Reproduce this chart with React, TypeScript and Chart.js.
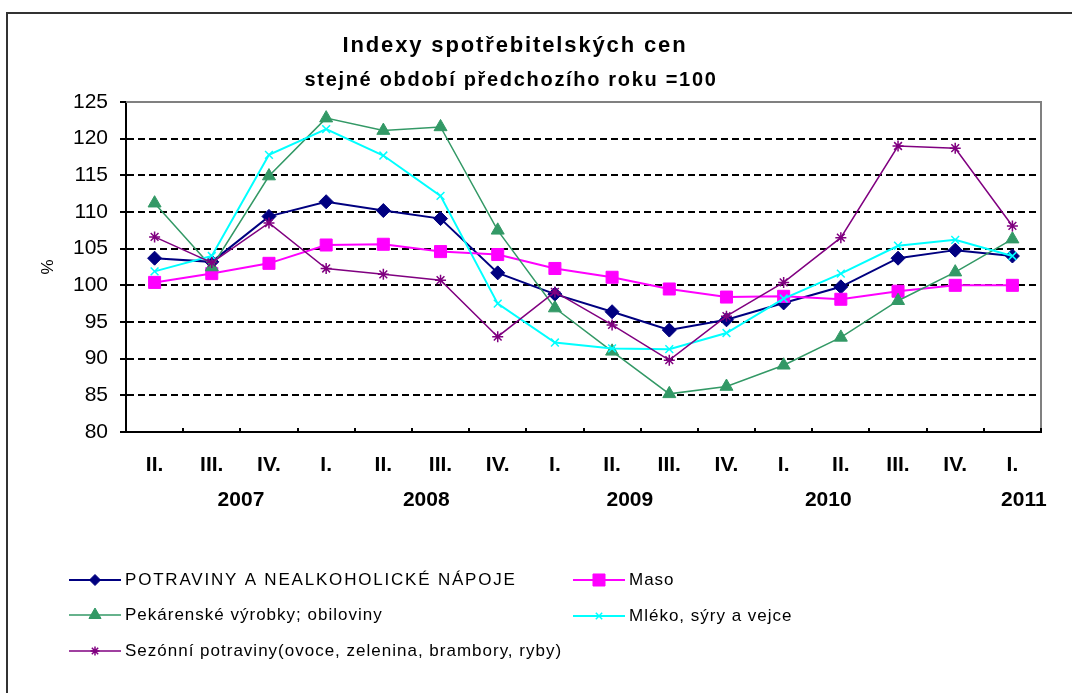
import React, { useEffect, useRef } from "react";
import { Chart, registerables } from "chart.js";
import { drawPoint } from "chart.js/helpers";

Chart.register(...registerables);

const quarterLabels = ["II.", "III.", "IV.", "I.", "II.", "III.", "IV.", "I.", "II.", "III.", "IV.", "I.", "II.", "III.", "IV.", "I."];
const yearLabels = ["2007", "2008", "2009", "2010", "2011"];

const potraviny = [103.7, 103.2, 109.4, 111.4, 110.2, 109.1, 101.7, 98.8, 96.4, 93.9, 95.3, 97.6, 99.8, 103.7, 104.8, 104.0];
const maso = [100.4, 101.6, 103.0, 105.5, 105.6, 104.6, 104.2, 102.3, 101.1, 99.5, 98.4, 98.5, 98.1, 99.2, 100.0, 100.0];
const pekarenske = [111.2, 102.5, 114.9, 122.8, 121.1, 121.6, 107.5, 96.9, 91.0, 85.2, 86.2, 89.1, 92.9, 97.9, 101.8, 106.3];
const mleko = [101.9, 104.0, 117.8, 121.3, 117.7, 112.2, 97.5, 92.2, 91.4, 91.3, 93.5, 98.2, 101.6, 105.4, 106.2, 104.0];
const sezonni = [106.6, 103.1, 108.5, 102.3, 101.5, 100.7, 93.0, 99.1, 94.6, 89.8, 95.8, 100.4, 106.5, 119.0, 118.7, 108.1];

const seriesNames = [
  "POTRAVINY A NEALKOHOLICKÉ NÁPOJE",
  "Maso",
  "Pekárenské výrobky; obiloviny",
  "Mléko, sýry a vejce",
  "Sezónní potraviny(ovoce, zelenina, brambory, ryby)",
];

const titleText = "Indexy spotřebitelských cen";
const subtitleText = "stejné období předchozího roku =100";
const yAxisTitle = "%";

const FONT = '"Liberation Sans", Arial, Helvetica, sans-serif';

// layout (not data)
const yearCenters = [1.51, 4.75, 8.31, 11.78, 15.2];
const legendSlots = [
  { x: 69, y: 580, r: 5.5, ls: 1.8 },
  { x: 573, y: 580, r: 8.5, ls: 1 },
  { x: 69, y: 615, r: 7, ls: 1 },
  { x: 573, y: 616, r: 4.5, ls: 1 },
  { x: 69, y: 651, r: 4.5, ls: 1 },
];

function spaced(ctx: CanvasRenderingContext2D, text: string, x: number, y: number, target?: number, ls?: number) {
  (ctx as any).letterSpacing = "0px";
  if (target) {
    const w = ctx.measureText(text).width;
    const n = Array.from(text).length;
    (ctx as any).letterSpacing = Math.max(0, (target - w) / n) + "px";
  } else if (ls) {
    (ctx as any).letterSpacing = ls + "px";
  }
  ctx.fillText(text, x, y);
  (ctx as any).letterSpacing = "0px";
}

const decor = {
  id: "decor",
  beforeDraw(chart: any) {
    const ctx = chart.ctx as CanvasRenderingContext2D;
    ctx.save();
    ctx.fillStyle = "#fff";
    ctx.fillRect(0, 0, chart.width, chart.height);
    ctx.strokeStyle = "#333";
    ctx.lineWidth = 2;
    ctx.beginPath();
    ctx.moveTo(7, chart.height);
    ctx.lineTo(7, 13);
    ctx.lineTo(chart.width, 13);
    ctx.stroke();
    ctx.restore();
  },
  beforeDatasetsDraw(chart: any) {
    const ctx = chart.ctx as CanvasRenderingContext2D;
    const a = chart.chartArea;
    const xs = chart.scales.x;
    ctx.save();
    ctx.strokeStyle = "#808080";
    ctx.lineWidth = 2;
    ctx.beginPath();
    ctx.moveTo(a.left, a.top);
    ctx.lineTo(a.right, a.top);
    ctx.lineTo(a.right, a.bottom);
    ctx.stroke();
    ctx.strokeStyle = "#000";
    ctx.lineWidth = 2;
    for (let i = 0; i <= quarterLabels.length; i++) {
      const px = Math.round(xs.getPixelForValue(i - 0.5));
      ctx.beginPath();
      ctx.moveTo(px, a.bottom);
      ctx.lineTo(px, a.bottom - 4);
      ctx.stroke();
    }
    ctx.restore();
  },
  afterDraw(chart: any) {
    const ctx = chart.ctx as CanvasRenderingContext2D;
    const xs = chart.scales.x;
    ctx.save();
    ctx.fillStyle = "#000";
    ctx.textBaseline = "middle";
    ctx.textAlign = "center";
    ctx.font = `bold 22px ${FONT}`;
    spaced(ctx, titleText, 515, 46, 345);
    ctx.font = `bold 20px ${FONT}`;
    spaced(ctx, subtitleText, 511, 80, 413);

    ctx.font = `bold 21px ${FONT}`;
    yearLabels.forEach((t, i) => {
      ctx.fillText(t, xs.getPixelForValue(yearCenters[i]), 500);
    });

    ctx.save();
    ctx.translate(48, 267);
    ctx.rotate(-Math.PI / 2);
    ctx.font = `17px ${FONT}`;
    ctx.fillText(yAxisTitle, 0, 0);
    ctx.restore();

    // legend
    ctx.textAlign = "left";
    ctx.font = `17px ${FONT}`;
    chart.data.datasets.forEach((ds: any, i: number) => {
      const s = legendSlots[i];
      ctx.strokeStyle = ds.borderColor;
      ctx.lineWidth = ds.borderWidth;
      ctx.beginPath();
      ctx.moveTo(s.x, s.y);
      ctx.lineTo(s.x + 52, s.y);
      ctx.stroke();
      ctx.fillStyle = ds.borderColor;
      ctx.lineWidth = ds.pointBorderWidth;
      drawPoint(ctx, { pointStyle: ds.pointStyle, rotation: 0, radius: s.r, borderWidth: ds.pointBorderWidth }, s.x + 26, s.y);
      ctx.fillStyle = "#000";
      spaced(ctx, ds.label, s.x + 56, s.y, undefined, s.ls);
    });
    ctx.restore();
  },
};

export default function App() {
  const ref = useRef<HTMLCanvasElement>(null);
  useEffect(() => {
    document.body.style.margin = "0";
    const canvas = ref.current!;
    const mk = (i: number, data: number[], color: string, style: string, radius: number, width: number, pbw: number) => ({
      label: seriesNames[i],
      data,
      borderColor: color,
      backgroundColor: color,
      pointBackgroundColor: color,
      pointBorderColor: color,
      pointStyle: style,
      pointRadius: radius,
      pointHoverRadius: radius,
      pointBorderWidth: pbw,
      borderWidth: width,
      tension: 0,
      fill: false,
      order: 5 - i,
    });
    const chart = new Chart(canvas, {
      type: "line",
      data: {
        labels: quarterLabels,
        datasets: [
          mk(0, potraviny, "#000080", "rectRot", 7, 2, 1),
          mk(1, maso, "#FF00FF", "rect", 8.5, 2, 1),
          mk(2, pekarenske, "#339966", "triangle", 7.5, 1.5, 1),
          mk(3, mleko, "#00FFFF", "crossRot", 5.5, 2, 1.5),
          mk(4, sezonni, "#800080", "star", 5.5, 1.5, 1.5),
        ] as any,
      },
      options: {
        responsive: false,
        animation: false,
        devicePixelRatio: 1,
        events: [],
        layout: { padding: { left: 0, top: 102, right: 31, bottom: 0 } },
        plugins: {
          legend: { display: false },
          tooltip: { enabled: false },
          title: { display: false },
        },
        scales: {
          x: {
            type: "category",
            offset: true,
            grid: { display: false, drawTicks: false },
            border: { display: true, color: "#000", width: 2 },
            ticks: {
              autoSkip: false,
              maxRotation: 0,
              minRotation: 0,
              padding: 21,
              color: "#000",
              font: { family: FONT, size: 21, weight: "bold" },
            },
            afterFit: (s: any) => {
              s.height = 261;
            },
          },
          y: {
            min: 80,
            max: 125,
            grid: {
              color: (c: any) => (c.tick && (c.tick.value === 80 || c.tick.value === 125) ? "rgba(0,0,0,0)" : "#000"),
              lineWidth: 2,
              tickColor: "#000",
              tickLength: 6,
              tickWidth: 2,
            },
            border: { display: true, color: "#000", width: 2, dash: [7, 4] },
            ticks: {
              stepSize: 5,
              padding: 12,
              color: "#000",
              font: { family: FONT, size: 21 },
            },
            afterFit: (s: any) => {
              s.width = 126;
            },
          },
        } as any,
      },
      plugins: [decor as any],
    });
    return () => chart.destroy();
  }, []);
  return <canvas ref={ref} width={1072} height={693} style={{ display: "block" }} />;
}
